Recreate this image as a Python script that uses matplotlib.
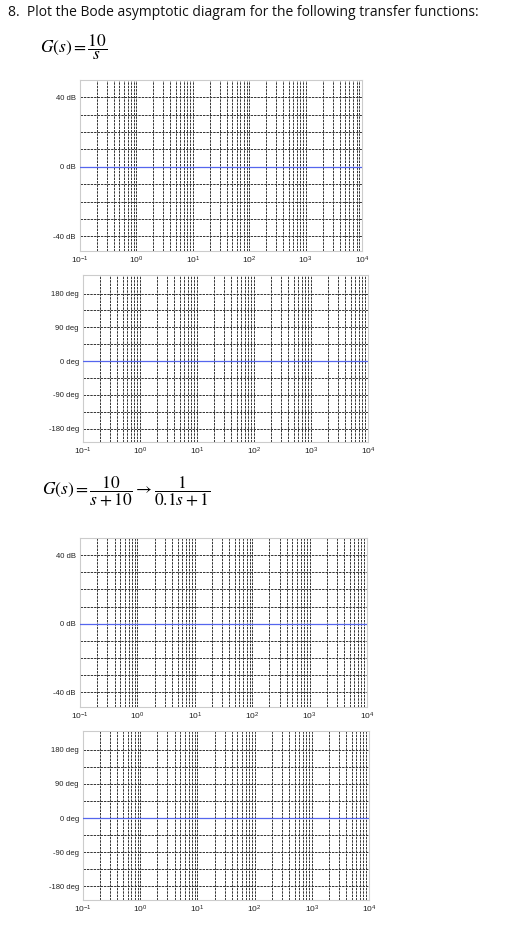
import matplotlib
matplotlib.use("Agg")
import matplotlib.pyplot as plt
import numpy as np
from matplotlib.ticker import LogLocator, FixedLocator, NullFormatter

plt.rcParams['font.family'] = ['Liberation Sans', 'DejaVu Sans']
plt.rcParams['mathtext.fontset'] = 'stix'

title_text = "8.  Plot the Bode asymptotic diagram for the following transfer functions:"
eq1 = r"$G(s)=\dfrac{10}{s}$"
eq2 = r"$G(s)=\dfrac{10}{s+10}\rightarrow\dfrac{1}{0.1s+1}$"

freq_range = [1e-1, 1e4]
mag_ticks = [40, 0, -40]
mag_tick_labels = ["40 dB", "0 dB", "-40 dB"]
mag_grid = [40, 30, 20, 10, 0, -10, -20, -30, -40]
phase_ticks = [180, 90, 0, -90, -180]
phase_tick_labels = ["180 deg", "90 deg", "0 deg", "-90 deg", "-180 deg"]
xtick_vals = [1e-1, 1e0, 1e1, 1e2, 1e3, 1e4]
xtick_labels = [r"$\mathregular{10^{-1}}$", r"$\mathregular{10^{0}}$", r"$\mathregular{10^{1}}$",
                r"$\mathregular{10^{2}}$", r"$\mathregular{10^{3}}$", r"$\mathregular{10^{4}}$"]

W, H = 532, 935
fig = plt.figure(figsize=(W/100, H/100), dpi=100)

GRID_C = '#333333'
DASH = (0, (2.5, 1))

def box(l, t, r, b):
    return [l/W, 1-b/H, (r-l)/W, (b-t)/H]

def style(ax):
    ax.set_xscale('log')
    ax.set_xlim(*freq_range)
    ax.xaxis.set_major_locator(FixedLocator(xtick_vals))
    ax.set_xticklabels(xtick_labels)
    ax.xaxis.set_minor_locator(LogLocator(base=10, subs=np.arange(2, 10)))
    ax.xaxis.set_minor_formatter(NullFormatter())
    ax.grid(True, which='both', axis='x', color=GRID_C, linestyle=DASH, linewidth=0.7)
    ax.tick_params(axis='both', which='both', length=0, labelsize=5.5, colors='#222222', pad=3)
    ax.tick_params(axis='x', labelsize=6)
    for s in ax.spines.values():
        s.set_color('#cccccc'); s.set_linewidth(0.8)

def mag(ax):
    style(ax)
    ax.set_ylim(-48.5, 50)
    ax.set_yticks(mag_ticks)
    ax.set_yticklabels(mag_tick_labels)
    for v in mag_grid:
        if v == 0:
            ax.axhline(v, color='#5566ee', lw=0.9, zorder=5)
        else:
            ax.axhline(v, color=GRID_C, linestyle=DASH, lw=0.7)

def phase(ax):
    style(ax)
    slots = [2, 1, 0, -1, -2]
    ax.set_ylim(-2.4, 2.55)
    ax.set_yticks(slots)
    ax.set_yticklabels(phase_tick_labels)
    for v in np.arange(-2, 2.01, 0.5):
        if v == 0:
            ax.axhline(v, color='#5566ee', lw=0.9, zorder=5)
        else:
            ax.axhline(v, color=GRID_C, linestyle=DASH, lw=0.7)

mag(fig.add_axes(box(80, 80, 362, 251)))
phase(fig.add_axes(box(83, 275, 368, 442)))
mag(fig.add_axes(box(80, 538, 367, 707)))
phase(fig.add_axes(box(83, 731, 369, 900)))

fig.text(8/W, 1-13/H, title_text, fontsize=10, va='center', ha='left', family=['Open Sans', 'DejaVu Sans'], color='#111111')
fig.text(40/W, 1-47/H, eq1, fontsize=12.5, va='center', ha='left')
fig.text(42/W, 1-491/H, eq2, fontsize=12.5, va='center', ha='left')

fig.savefig("out.png", dpi=100)
